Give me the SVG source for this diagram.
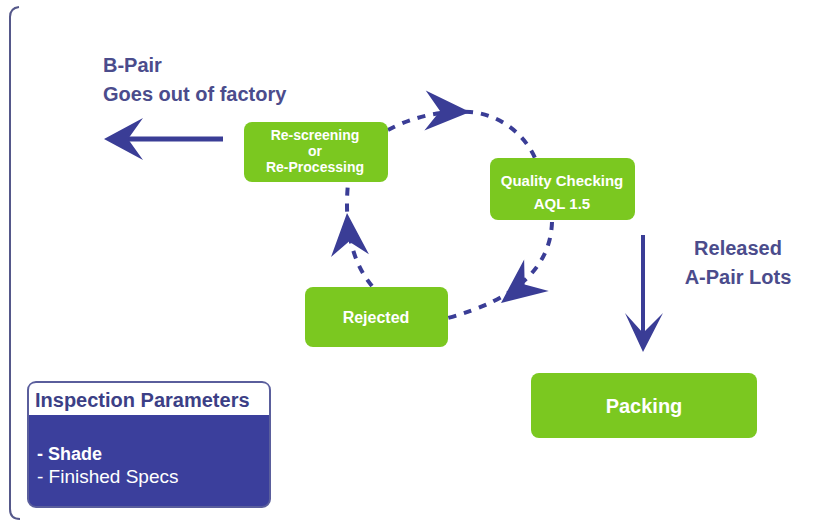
<svg xmlns="http://www.w3.org/2000/svg" width="834" height="522" viewBox="0 0 834 522">
<style>
.box{fill:#7bc820;}
.bt{font-family:"Liberation Sans",Arial,sans-serif;font-weight:bold;fill:#ffffff;text-anchor:middle;}
.lbl{font-family:"Liberation Sans",Arial,sans-serif;font-weight:bold;fill:#4b4c8c;font-size:20px;}
.dash{fill:none;stroke:#3a3d96;stroke-width:4;stroke-dasharray:8 8;}
.solid{fill:none;stroke:#3a3d96;}
.head{fill:#3a3d96;}
</style>
<defs>
<path id="dart" d="M0,0 L-45,-20 L-30,0 L-45,20 Z"/>
</defs>
<rect width="834" height="522" fill="#ffffff"/>
<path d="M20,519 Q10,519 10,509 L10,17 Q10,8 19,7" fill="none" stroke="#55588a" stroke-width="2"/>

<g id="connectors">
<path class="dash" d="M388,130 C410,118 440,110 470,112 C500,114 525,135 535,158"/>
<use href="#dart" class="head" transform="translate(470,112) rotate(2)"/>
<path class="dash" d="M552,222 Q550,290 448,318"/>
<use href="#dart" class="head" transform="translate(501,303) rotate(142)"/>
<path class="dash" d="M372,286 Q342,250 348,183"/>
<use href="#dart" class="head" transform="translate(347,213) rotate(-94) scale(0.95)"/>
<path class="solid" d="M223,139 L128,139" stroke-width="5"/>
<path class="head" d="M104,139 L143,118 L128,139 L143,160 Z"/>
<path class="solid" d="M643,235 L643,334" stroke-width="4"/>
<path class="head" d="M643,352 L625,313 L643,333 L663,313 Z"/>
</g>

<g id="label-bpair">
<text class="lbl" x="103" y="72">B-Pair</text>
<text class="lbl" x="103" y="101">Goes out of factory</text>
</g>
<g id="label-released">
<text class="lbl" x="738" y="255" text-anchor="middle">Released</text>
<text class="lbl" x="738" y="284" text-anchor="middle">A-Pair Lots</text>
</g>

<g id="node-rescreening">
<rect class="box" x="244" y="122" width="144" height="60" rx="8"/>
<text class="bt" x="315" y="140" font-size="14">Re-screening</text>
<text class="bt" x="315" y="156" font-size="14">or</text>
<text class="bt" x="315" y="172" font-size="14">Re-Processing</text>
</g>
<g id="node-quality">
<rect class="box" x="490" y="158" width="145" height="62" rx="8"/>
<text class="bt" x="562" y="186" font-size="15">Quality Checking</text>
<text class="bt" x="562" y="209" font-size="15">AQL 1.5</text>
</g>
<g id="node-rejected">
<rect class="box" x="305" y="287" width="143" height="60" rx="8"/>
<text class="bt" x="376" y="323" font-size="16">Rejected</text>
</g>
<g id="node-packing">
<rect class="box" x="531" y="373" width="226" height="65" rx="8"/>
<text class="bt" x="644" y="413" font-size="20">Packing</text>
</g>

<g id="node-inspection">
<rect x="28" y="382" width="242" height="125" rx="8" fill="#3b3f9c" stroke="#5a5e9c" stroke-width="2"/>
<path d="M29,415 L29,390 Q29,383 36,383 L262,383 Q269,383 269,390 L269,415 Z" fill="#ffffff"/>
<text x="35" y="407" font-family="Liberation Sans,Arial,sans-serif" font-weight="bold" font-size="20" fill="#3c3f86">Inspection Parameters</text>
<text x="37" y="460" font-family="Liberation Sans,Arial,sans-serif" font-weight="bold" font-size="18" fill="#ffffff">- Shade</text>
<text x="37" y="483" font-family="Liberation Sans,Arial,sans-serif" font-size="19" fill="#ffffff">- Finished Specs</text>
</g>
</svg>
